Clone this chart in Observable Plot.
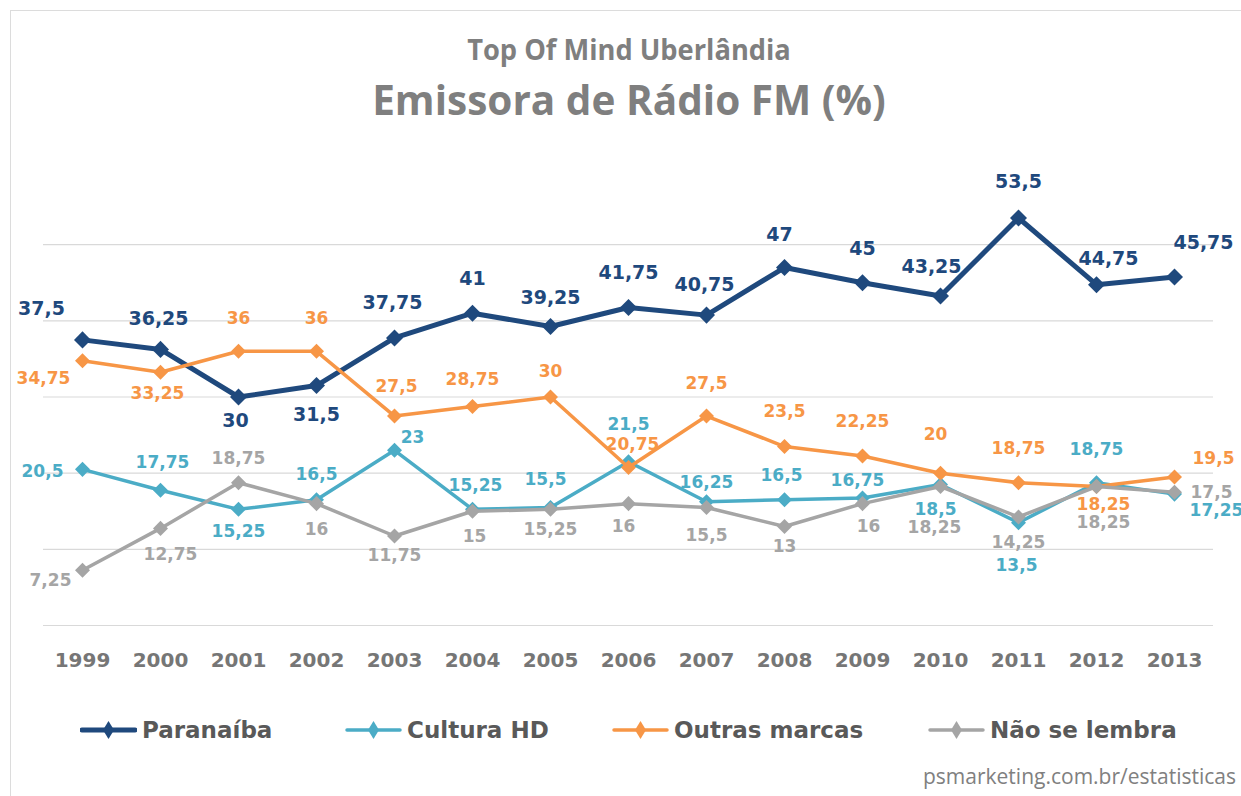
<!DOCTYPE html>
<html>
<head>
<meta charset="utf-8">
<script src="https://cdn.jsdelivr.net/npm/d3@7"></script>
<script src="https://cdn.jsdelivr.net/npm/@observablehq/plot@0.6"></script>
<style>
  html, body { margin: 0; padding: 0; background: #fff; }
  body { width: 1241px; height: 796px; position: relative; overflow: hidden; font-family: "DejaVu Sans", sans-serif; }
  #frame { position: absolute; left: 10px; top: 10px; width: 1300px; height: 900px; border: 1px solid #dcdcdc; box-sizing: border-box; }
  .title { position: absolute; left: 0; width: 1258px; text-align: center; color: #7f7f7f; font-family: "Open Sans", sans-serif; font-weight: bold; white-space: nowrap; transform-origin: 629px 50%; }
  #t1 { top: 34px; font-size: 29px; line-height: 30px; transform: scaleX(0.94); }
  #t2 { top: 78px; font-size: 42px; line-height: 42px; transform: scaleX(0.965); }
  #chart { position: absolute; left: 0; top: 140px; }
  .leg { position: absolute; top: 716px; height: 28px; display: flex; align-items: center; gap: 5px; font-family: "DejaVu Sans", sans-serif; font-weight: bold; font-size: 23px; color: #595959; white-space: nowrap; }
  #caption { position: absolute; left: 923px; top: 762px; font-family: "Open Sans", sans-serif; font-size: 21px; color: #808080; white-space: nowrap; }
</style>
</head>
<body>
<div id="frame"></div>
<div class="title" id="t1">Top Of Mind Uberlândia</div>
<div class="title" id="t2">Emissora de Rádio FM (%)</div>
<div id="chart"></div>
<div id="legend"></div>
<div id="caption">psmarketing.com.br/estatisticas</div>
<script>
// ---- data ----
const years = ["1999","2000","2001","2002","2003","2004","2005","2006","2007","2008","2009","2010","2011","2012","2013"];
const seriesNames = ["Paranaíba", "Cultura HD", "Outras marcas", "Não se lembra"];
const paranaiba = [37.5, 36.25, 30, 31.5, 37.75, 41, 39.25, 41.75, 40.75, 47, 45, 43.25, 53.5, 44.75, 45.75];
const culturaHD = [20.5, 17.75, 15.25, 16.5, 23, 15.25, 15.5, 21.5, 16.25, 16.5, 16.75, 18.5, 13.5, 18.75, 17.25];
const outrasMarcas = [34.75, 33.25, 36, 36, 27.5, 28.75, 30, 20.75, 27.5, 23.5, 22.25, 20, 18.75, 18.25, 19.5];
const naoSeLembra = [7.25, 12.75, 18.75, 16, 11.75, 15, 15.25, 16, 15.5, 13, 16, 18.25, 14.25, 18.25, 17.5];
const gridValues = [0, 10, 20, 30, 40, 50];

// ---- style / label placement (pixel offsets of each data label from its point) ----
const colors = ["#1f497d", "#4bacc6", "#f79646", "#a5a5a5"];
const lineWidths = [5, 3.5, 3.5, 3.5];
const markerR = [6.8, 6, 6, 6];
const labelOffsets = [
  [[-41,-31],[-2,-30],[-3,24],[0,29],[-2,-35],[0,-34],[0,-29],[0,-35],[-2,-30],[-5,-33],[0,-34],[-9,-29],[0,-36],[12,-26],[29,-34]],
  [[-40,2],[2,-28],[0,22],[0,-25],[18,-13],[3,-24],[-5,-28],[0,-37],[0,-19],[-3,-24],[-5,-17],[-5,25],[-2,43],[0,-33],[42,16]],
  [[-39,18],[-3,21],[0,-33],[0,-33],[2,-29],[0,-27],[0,-25],[4,-23],[0,-32],[0,-35],[0,-34],[-5,-39],[0,-34],[7,18],[39,-18]],
  [[-32,10],[10,26],[0,-24],[0,26],[0,20],[2,25],[0,20],[-5,23],[0,28],[0,20],[6,23],[-6,41],[0,26],[7,36],[37,0]]
];

const allValues = [paranaiba, culturaHD, outrasMarcas, naoSeLembra];
const fmt = v => String(v).replace(".", ",");

const marks = [
  Plot.ruleY(gridValues, {stroke: "#d9d9d9", strokeWidth: 1.2}),
  Plot.axisX({tickSize: 0, tickPadding: 27, label: null, fontSize: 20, fontWeight: "bold", fill: "#767676", fontFamily: "DejaVu Sans"}),
];

allValues.forEach((vals, si) => {
  const data = years.map((y, i) => ({year: y, value: vals[i], i}));
  marks.push(Plot.line(data, {x: "year", y: "value", stroke: colors[si], strokeWidth: lineWidths[si], strokeLinejoin: "round", strokeLinecap: "round"}));
  marks.push(Plot.dot(data, {x: "year", y: "value", symbol: "square", rotate: 45, r: markerR[si], fill: colors[si], stroke: "none"}));
});
allValues.forEach((vals, si) => {
  years.forEach((y, i) => {
    const [dx, dy] = labelOffsets[si][i];
    marks.push(Plot.text([{year: y, value: vals[i]}], {
      x: "year", y: "value", text: d => fmt(d.value),
      dx, dy, textAnchor: "middle", lineAnchor: "middle",
      fill: colors[si],
      fontSize: si === 0 ? 19 : 17,
      fontWeight: "bold",
      fontFamily: "DejaVu Sans"
    }));
  });
});

const chart = Plot.plot({
  width: 1241,
  height: 560,
  marginLeft: 43,
  marginRight: 28,
  marginTop: 28,
  marginBottom: 75,
  x: {type: "point", domain: years, padding: 0.5, axis: null, label: null},
  y: {domain: [0, 60], axis: null},
  style: {background: "transparent", fontFamily: "DejaVu Sans", overflow: "visible"},
  marks
});
document.getElementById("chart").appendChild(chart);

// ---- legend ----
const legendLefts = [80, 345, 612, 928];
const legend = document.getElementById("legend");
seriesNames.forEach((name, si) => {
  const item = document.createElement("div");
  item.className = "leg";
  item.style.left = legendLefts[si] + "px";
  const sw = d3.create("svg").attr("width", 57).attr("height", 24);
  sw.append("line").attr("x1", 2).attr("x2", 55).attr("y1", 12).attr("y2", 12)
    .attr("stroke", colors[si]).attr("stroke-width", lineWidths[si]).attr("stroke-linecap", "round");
  sw.append("path").attr("d", "M28.5,3 L34,12 L28.5,21 L23,12 Z").attr("fill", colors[si]);
  item.appendChild(sw.node());
  const span = document.createElement("span");
  span.textContent = name;
  item.appendChild(span);
  legend.appendChild(item);
});
</script>
</body>
</html>
